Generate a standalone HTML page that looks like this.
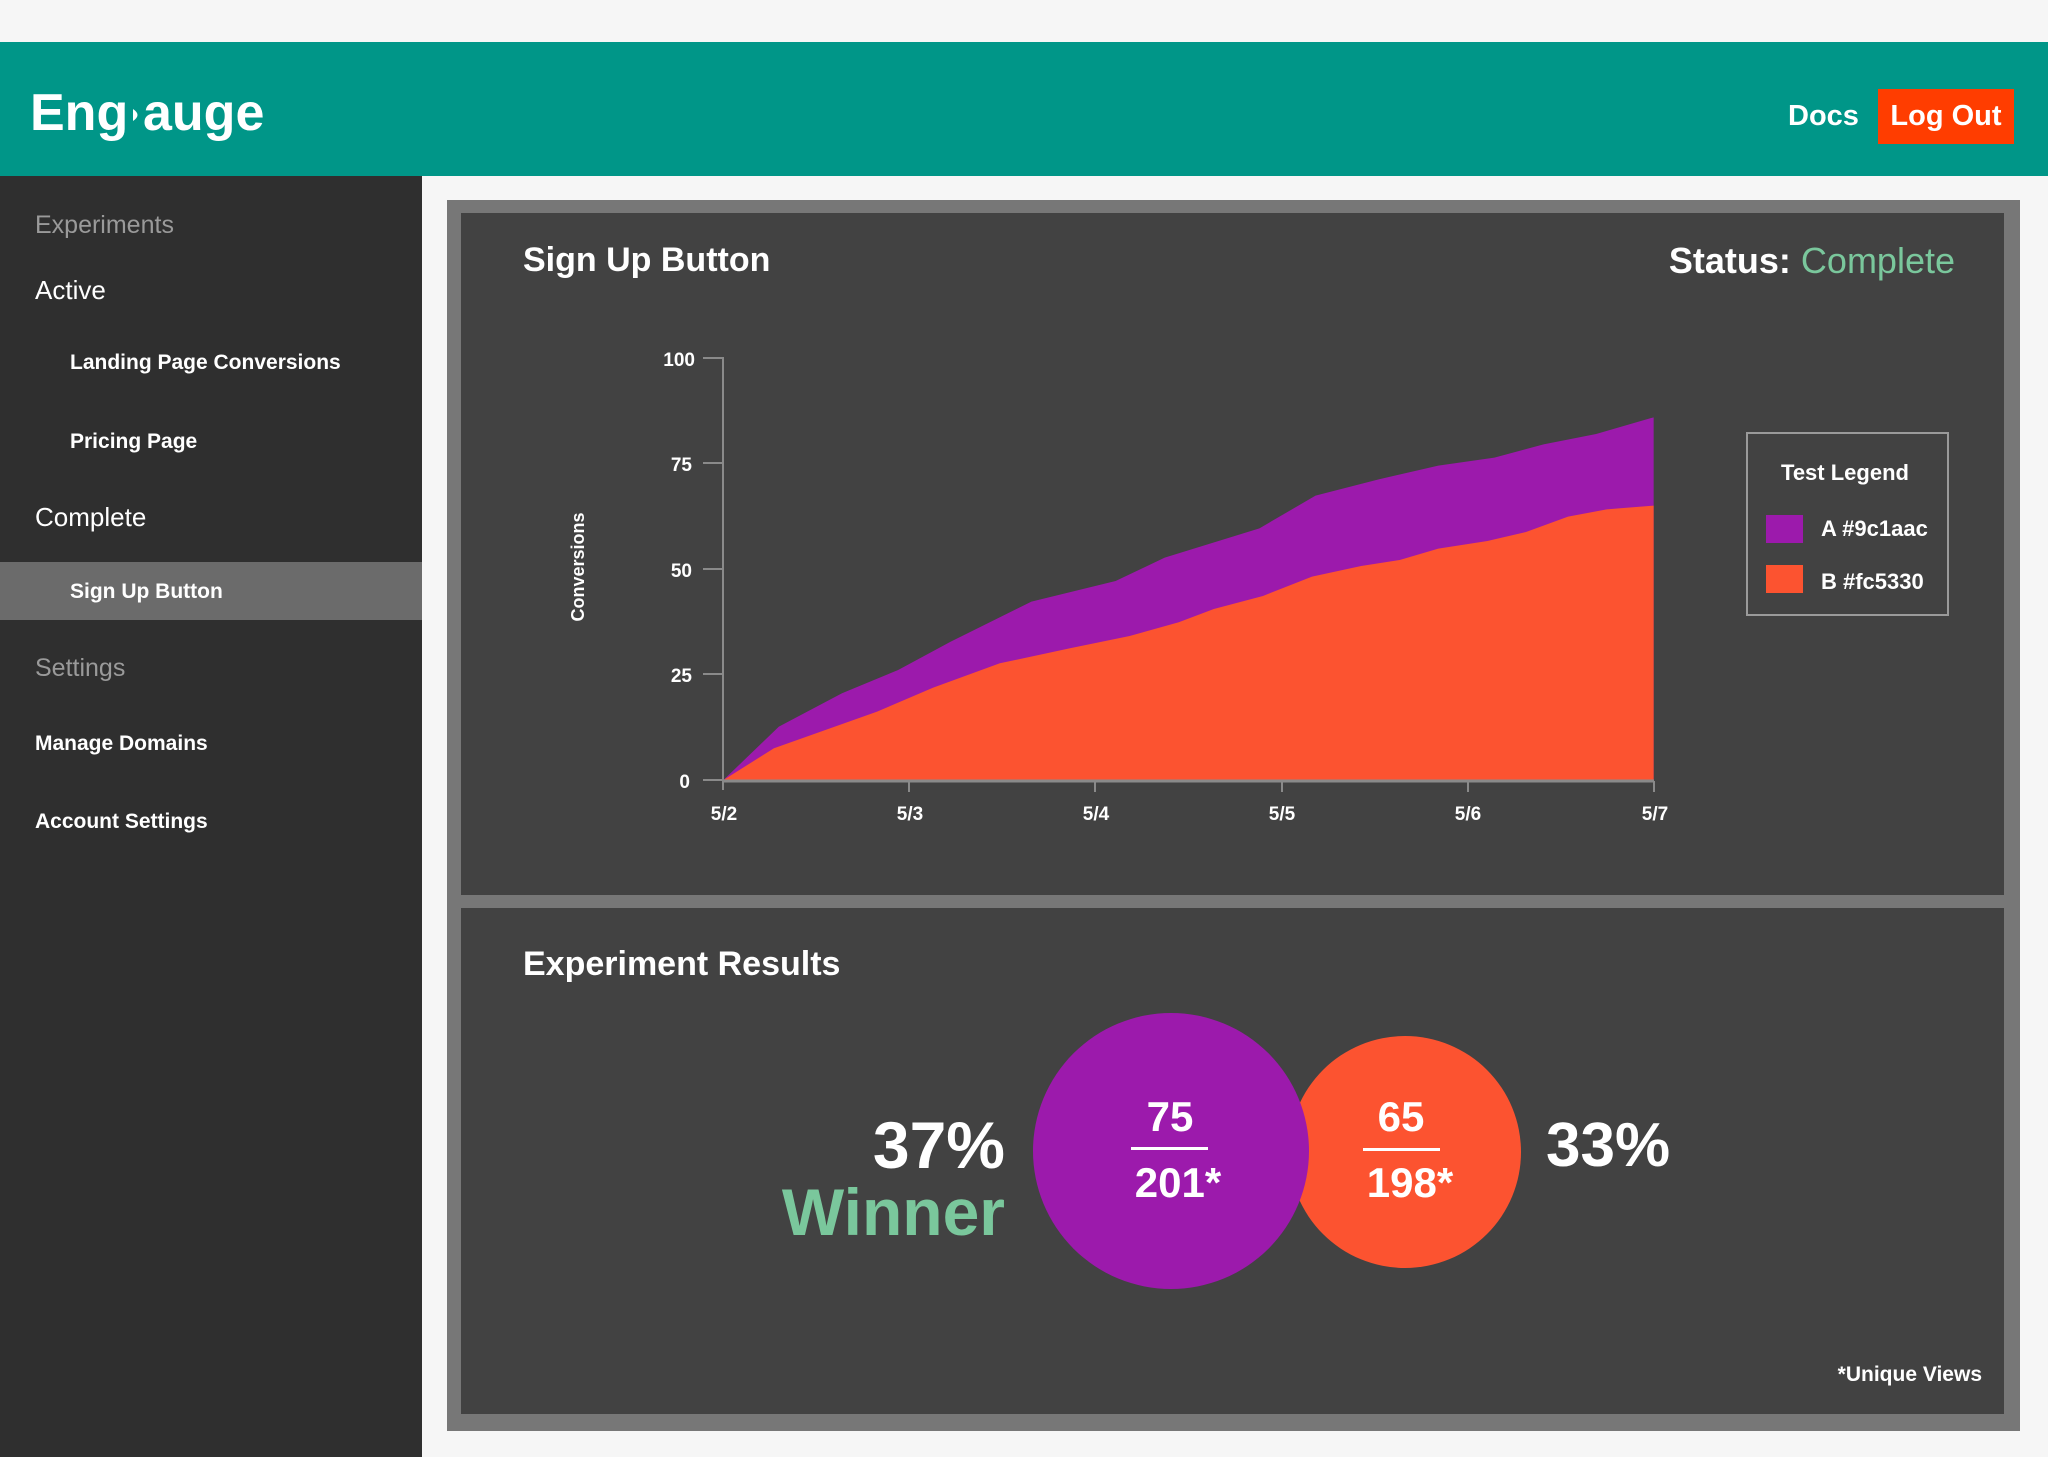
<!DOCTYPE html>
<html><head><meta charset="utf-8"><style>
html,body{margin:0;padding:0;background:#f6f6f6;}
svg{display:block;font-family:"Liberation Sans",sans-serif;}
</style></head><body>
<svg width="2048" height="1457" viewBox="0 0 2048 1457" xmlns="http://www.w3.org/2000/svg">
<rect x="0" y="0" width="2048" height="1457" fill="#f6f6f6"/>
<!-- header -->
<rect x="0" y="42" width="2048" height="134" fill="#009688"/>
<text x="30" y="130" font-size="52" font-weight="bold" fill="#fff">Eng</text>
<path d="M133 109 q9 6 0 12 z" fill="#fff"/>
<text x="143" y="130" font-size="52" font-weight="bold" fill="#fff">auge</text>
<text x="1788" y="125" font-size="29" font-weight="bold" fill="#fff">Docs</text>
<rect x="1878" y="89" width="136" height="55" fill="#ff3d00"/>
<text x="1946" y="125" font-size="29" font-weight="bold" fill="#fff" text-anchor="middle">Log Out</text>
<!-- sidebar -->
<rect x="0" y="176" width="422" height="1281" fill="#2f2f2f"/>
<rect x="0" y="562" width="422" height="58" fill="#6b6b6b"/>
<g fill="#fff">
<text x="35" y="233" font-size="25" fill="#9a9a9a">Experiments</text>
<text x="35" y="299" font-size="26">Active</text>
<text x="70" y="369" font-size="21" font-weight="bold">Landing Page Conversions</text>
<text x="70" y="448" font-size="21" font-weight="bold">Pricing Page</text>
<text x="35" y="526" font-size="26">Complete</text>
<text x="70" y="598" font-size="21" font-weight="bold">Sign Up Button</text>
<text x="35" y="676" font-size="25" fill="#9a9a9a">Settings</text>
<text x="35" y="750" font-size="21" font-weight="bold">Manage Domains</text>
<text x="35" y="828" font-size="21" font-weight="bold">Account Settings</text>
</g>
<!-- panels -->
<rect x="447" y="200" width="1573" height="1231" fill="#777"/>
<rect x="461" y="213" width="1543" height="682" fill="#424242"/>
<rect x="461" y="908" width="1543" height="506" fill="#424242"/>
<text x="523" y="271" font-size="34" font-weight="bold" fill="#fff">Sign Up Button</text>
<text x="1955" y="273" font-size="36" text-anchor="end" font-weight="bold" fill="#fff">Status: <tspan fill="#7ac79c" font-weight="normal">Complete</tspan></text>
<!-- chart -->
<g transform="translate(600,320) scale(0.7015,0.3333)">
<polygon fill="#9c1aac" points="176,1380 255,1220 345,1120 425,1050 500,965 615,845 735,783 805,713 940,625 1020,527 1110,478 1195,437 1275,413 1345,373 1420,342 1502,292 1502,1380"/>
<polygon fill="#fc5330" points="176,1380 248,1285 395,1175 475,1103 570,1030 670,985 755,948 825,907 875,867 945,828 1015,770 1085,738 1140,720 1195,686 1265,663 1320,636 1380,590 1435,568 1502,557 1502,1380"/>
</g>
<g stroke="#8a8a8a" stroke-width="2" fill="none">
<line x1="723" y1="357" x2="723" y2="790"/>
<line x1="722" y1="781" x2="1654" y2="781" stroke-width="3"/>
<line x1="703" y1="358" x2="723" y2="358"/>
<line x1="703" y1="463" x2="723" y2="463"/>
<line x1="703" y1="569" x2="723" y2="569"/>
<line x1="703" y1="674" x2="723" y2="674"/>
<line x1="703" y1="780" x2="723" y2="780"/>
<line x1="909" y1="781" x2="909" y2="792"/>
<line x1="1095" y1="781" x2="1095" y2="792"/>
<line x1="1282" y1="781" x2="1282" y2="792"/>
<line x1="1468" y1="781" x2="1468" y2="792"/>
<line x1="1654" y1="781" x2="1654" y2="792"/>
</g>
<g fill="#fff" font-size="19" font-weight="bold">
<text x="695" y="366" text-anchor="end">100</text>
<text x="692" y="471" text-anchor="end">75</text>
<text x="692" y="577" text-anchor="end">50</text>
<text x="692" y="682" text-anchor="end">25</text>
<text x="690" y="788" text-anchor="end">0</text>
<g text-anchor="middle">
<text x="724" y="820">5/2</text><text x="910" y="820">5/3</text><text x="1096" y="820">5/4</text>
<text x="1282" y="820">5/5</text><text x="1468" y="820">5/6</text><text x="1655" y="820">5/7</text>
</g>
<text transform="translate(584,567) rotate(-90)" text-anchor="middle" font-size="18">Conversions</text>
</g>
<!-- legend -->
<rect x="1747" y="433" width="201" height="182" fill="none" stroke="#9a9a9a" stroke-width="2"/>
<text x="1845" y="480" font-size="22" font-weight="bold" fill="#fff" text-anchor="middle">Test Legend</text>
<rect x="1766" y="515" width="37" height="28" fill="#9c1aac"/>
<rect x="1766" y="565" width="37" height="28" fill="#fc5330"/>
<text x="1821" y="536" font-size="22" font-weight="bold" fill="#fff">A #9c1aac</text>
<text x="1821" y="589" font-size="22" font-weight="bold" fill="#fff">B #fc5330</text>
<!-- results -->
<text x="523" y="975" font-size="34" font-weight="bold" fill="#fff">Experiment Results</text>
<text x="1005" y="1168" font-size="66" font-weight="bold" fill="#fff" text-anchor="end">37%</text>
<text x="1005" y="1235" font-size="66" font-weight="bold" fill="#7ac79c" text-anchor="end">Winner</text>
<circle cx="1405" cy="1152" r="116" fill="#fc5330"/>
<circle cx="1171" cy="1151" r="138" fill="#9c1aac"/>
<g fill="#fff" font-weight="bold" text-anchor="middle">
<text x="1170" y="1131" font-size="42">75</text>
<rect x="1131" y="1147" width="77" height="3"/>
<text x="1178" y="1197" font-size="42">201*</text>
<text x="1401" y="1131" font-size="42">65</text>
<rect x="1363" y="1148" width="77" height="3"/>
<text x="1410" y="1197" font-size="42">198*</text>
</g>
<text x="1546" y="1166" font-size="62" font-weight="bold" fill="#fff">33%</text>
<text x="1982" y="1381" font-size="21" font-weight="bold" fill="#fff" text-anchor="end">*Unique Views</text>
</svg>
</body></html>
